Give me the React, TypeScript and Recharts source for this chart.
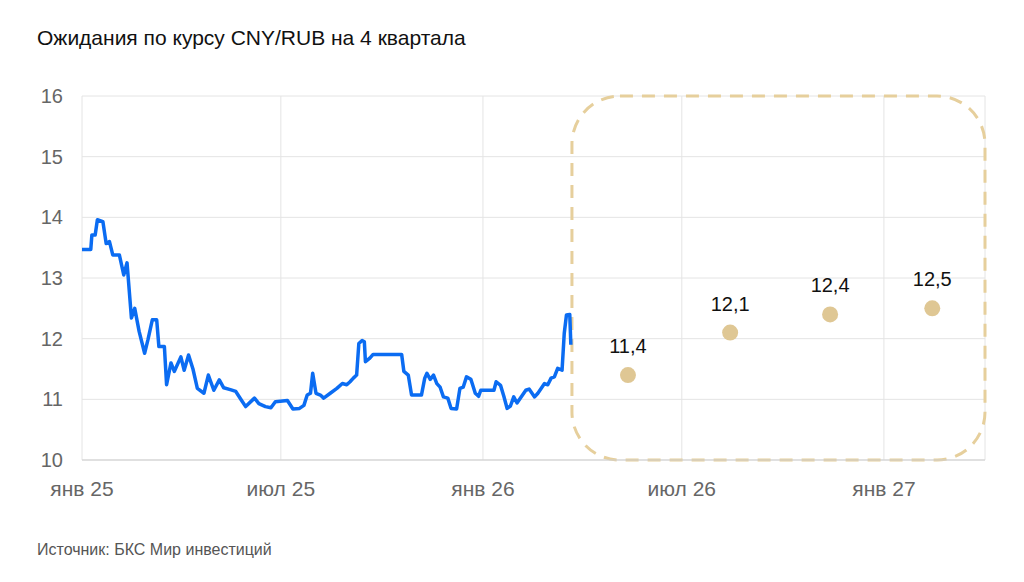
import { ComposedChart, Line, Scatter, XAxis, YAxis, CartesianGrid, ReferenceArea } from 'recharts'

// Курс CNY/RUB (факт)
const histDates = [
  '2025-01-01', '2025-01-09', '2025-01-10', '2025-01-13', '2025-01-15', '2025-01-20', '2025-01-23', '2025-01-26',
  '2025-01-29', '2025-02-04', '2025-02-08', '2025-02-11', '2025-02-15', '2025-02-18', '2025-02-22', '2025-02-27',
  '2025-03-02', '2025-03-06', '2025-03-10', '2025-03-12', '2025-03-17', '2025-03-19', '2025-03-23', '2025-03-26',
  '2025-04-01', '2025-04-04', '2025-04-08', '2025-04-12', '2025-04-16', '2025-04-22', '2025-04-26', '2025-05-01',
  '2025-05-06', '2025-05-10', '2025-05-16', '2025-05-21', '2025-05-26', '2025-05-30', '2025-06-07', '2025-06-11',
  '2025-06-17', '2025-06-22', '2025-06-26', '2025-07-07', '2025-07-12', '2025-07-18', '2025-07-22', '2025-07-25',
  '2025-07-28', '2025-07-30', '2025-08-02', '2025-08-06', '2025-08-09', '2025-08-15', '2025-08-21', '2025-08-26',
  '2025-08-30', '2025-09-02', '2025-09-05', '2025-09-08', '2025-09-10', '2025-09-13', '2025-09-15', '2025-09-16',
  '2025-09-20', '2025-09-23', '2025-10-19', '2025-10-21', '2025-10-25', '2025-10-28', '2025-11-06', '2025-11-09',
  '2025-11-11', '2025-11-14', '2025-11-17', '2025-11-20', '2025-11-23', '2025-11-26', '2025-11-30', '2025-12-03',
  '2025-12-08', '2025-12-11', '2025-12-14', '2025-12-17', '2025-12-21', '2025-12-25', '2025-12-28', '2025-12-30',
  '2026-01-11', '2026-01-13', '2026-01-17', '2026-01-20', '2026-01-23', '2026-01-26', '2026-01-29', '2026-02-01',
  '2026-02-09', '2026-02-12', '2026-02-17', '2026-02-20', '2026-02-26', '2026-03-01', '2026-03-04', '2026-03-07',
  '2026-03-10', '2026-03-14', '2026-03-16', '2026-03-18', '2026-03-21', '2026-03-22',
]
const histRates = [
  13.47, 13.47, 13.71, 13.71, 13.96, 13.93, 13.57, 13.6,
  13.38, 13.38, 13.05, 13.25, 12.34, 12.5, 12.12, 11.76,
  11.98, 12.31, 12.31, 11.87, 11.87, 11.24, 11.6, 11.46,
  11.7, 11.48, 11.73, 11.5, 11.18, 11.1, 11.4, 11.15,
  11.32, 11.19, 11.16, 11.13, 10.99, 10.88, 11.02, 10.93,
  10.88, 10.86, 10.96, 10.98, 10.84, 10.85, 10.9, 11.07,
  11.1, 11.43, 11.1, 11.07, 11.02, 11.1, 11.18, 11.26,
  11.24, 11.29, 11.35, 11.4, 11.92, 11.97, 11.95, 11.62,
  11.68, 11.74, 11.74, 11.46, 11.4, 11.07, 11.07, 11.35,
  11.43, 11.33, 11.4, 11.26, 11.2, 11.04, 11.02, 10.85,
  10.84, 11.18, 11.2, 11.37, 11.33, 11.1, 11.05, 11.15,
  11.15, 11.29, 11.23, 11.05, 10.85, 10.89, 11.04, 10.94,
  11.15, 11.17, 11.04, 11.1, 11.26, 11.24, 11.35, 11.37,
  11.51, 11.48, 12.09, 12.39, 12.4, 11.9,
]

// Ожидания на 4 квартала
const forecastDates = ['2026-05-13', '2026-08-14', '2026-11-13', '2027-02-14']
const forecastRates = [11.4, 12.1, 12.4, 12.5]
const forecastLabels = ['11,4', '12,1', '12,4', '12,5']

const xTickDates = ['2025-01-01', '2025-07-01', '2026-01-01', '2026-07-01', '2027-01-01']
const xTickLabels = ['янв 25', 'июл 25', 'янв 26', 'июл 26', 'янв 27']
const yTicks = [10, 11, 12, 13, 14, 15, 16]

const xStart = '2025-01-01'
const xEnd = '2027-04-03'
const boxStart = '2026-03-23'

const ts = (d: string) => Date.parse(d + 'T00:00:00Z')

const histData = histDates.map((d, i) => ({ t: ts(d), v: histRates[i] }))
const forecastData = forecastDates.map((d, i) => ({ t: ts(d), v: forecastRates[i], label: forecastLabels[i] }))
const xTicks = xTickDates.map(ts)

const FONT = '"Liberation Sans", Arial, sans-serif'
const GOLD = '#dfc794'

const ForecastDot = (props: any) => {
  const { cx, cy, payload } = props
  return (
    <g>
      <circle cx={cx} cy={cy} r={8} fill={GOLD} />
      <text x={cx} y={cy - 22} textAnchor="middle" fontSize={20} fill="#111" fontFamily={FONT}>
        {payload.label}
      </text>
    </g>
  )
}

const DashedBox = (props: any) => (
  <rect
    x={props.x}
    y={props.y}
    width={props.width}
    height={props.height}
    rx={48}
    ry={48}
    fill="none"
    stroke="#e6cf9c"
    strokeWidth={3}
    strokeDasharray="13 9"
  />
)

export default function App() {
  return (
    <div style={{ position: 'absolute', left: 0, top: 0, width: 1024, height: 582, background: '#fff', fontFamily: FONT }}>
      <div style={{ position: 'absolute', left: 37, top: 26, fontSize: 21, lineHeight: '24px', color: '#111' }}>
        Ожидания по курсу CNY/RUB на 4 квартала
      </div>
      <ComposedChart
        width={1024}
        height={582}
        margin={{ top: 96, right: 39, bottom: 92, left: 32 }}
        style={{ position: 'absolute', left: 0, top: 0 }}
      >
        <CartesianGrid stroke="#e4e4e4" />
        <XAxis
          type="number"
          dataKey="t"
          domain={[ts(xStart), ts(xEnd)]}
          ticks={xTicks}
          tickFormatter={(v: number) => xTickLabels[xTicks.indexOf(v)]}
          allowDataOverflow
          height={30}
          tickLine={false}
          axisLine={{ stroke: '#cfcfcf' }}
          tickMargin={15}
          tick={{ fill: '#666', fontSize: 21, fontFamily: FONT }}
        />
        <YAxis
          type="number"
          dataKey="v"
          domain={[10, 16]}
          ticks={yTicks}
          width={50}
          axisLine={false}
          tickLine={false}
          tickMargin={13}
          tick={{ fill: '#666', fontSize: 20, fontFamily: FONT }}
        />
        <ReferenceArea x1={ts(boxStart)} x2={ts(xEnd)} y1={10} y2={16} ifOverflow="visible" shape={DashedBox} />
        <Line
          data={histData}
          dataKey="v"
          type="linear"
          stroke="#0b6cf2"
          strokeWidth={3.5}
          strokeLinejoin="round"
          dot={false}
          activeDot={false}
          isAnimationActive={false}
        />
        <Scatter data={forecastData} dataKey="v" shape={ForecastDot} isAnimationActive={false} />
      </ComposedChart>
      <div style={{ position: 'absolute', left: 37, top: 541, fontSize: 16, lineHeight: '18px', color: '#555' }}>
        Источник: БКС Мир инвестиций
      </div>
    </div>
  )
}
